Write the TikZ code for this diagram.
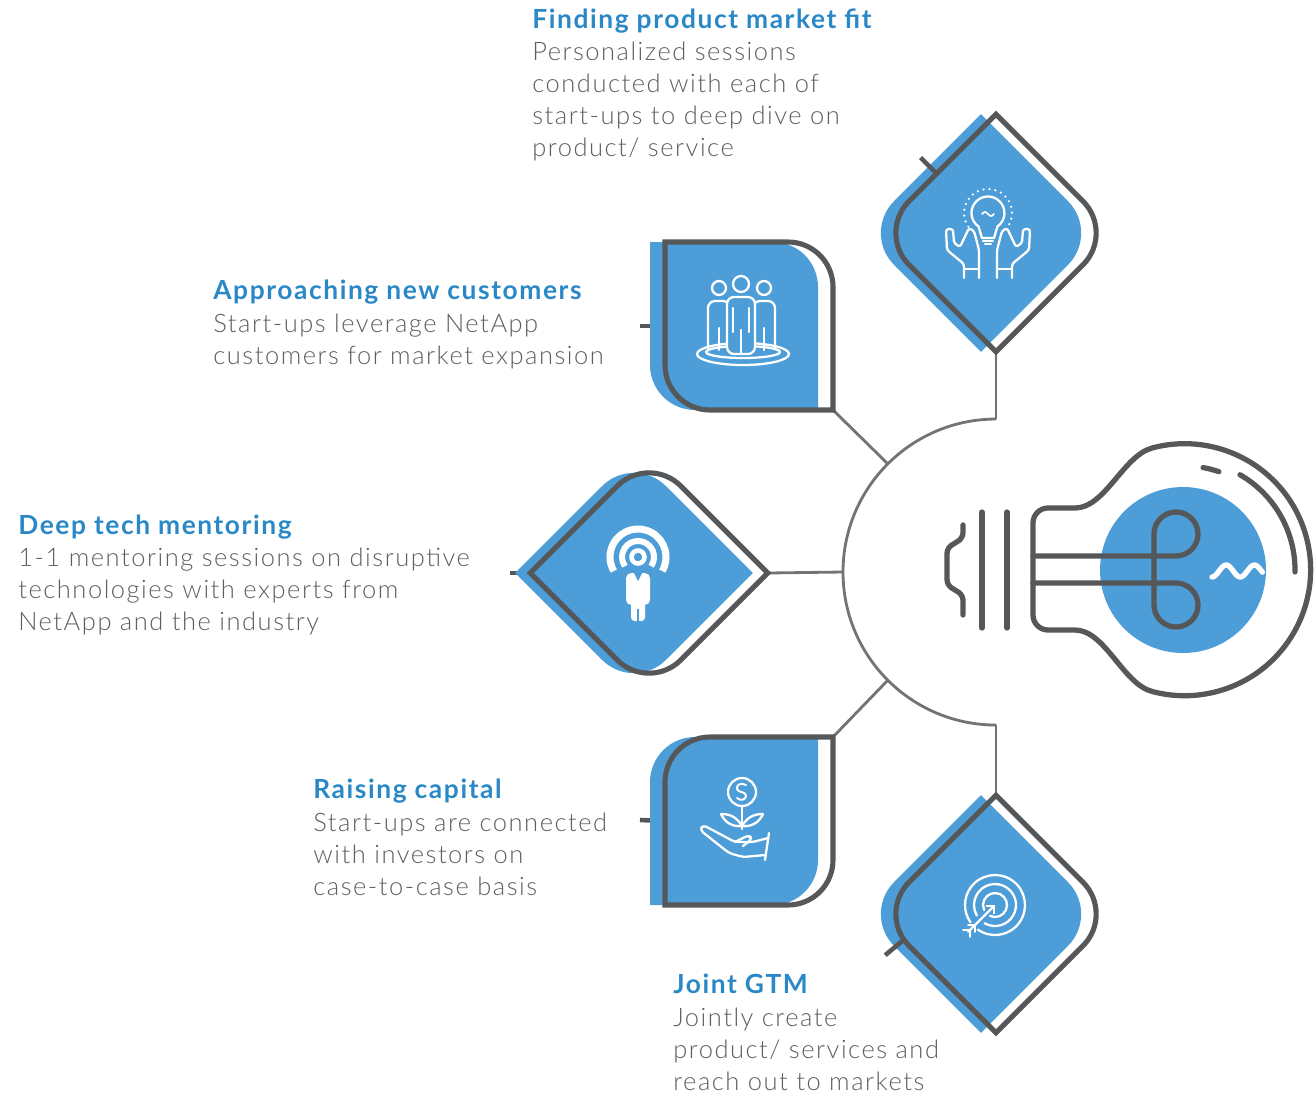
\documentclass[tikz,border=0pt]{standalone}
\usepackage{fontspec}
\setmainfont{Lato}
\newfontfamily\lightfont{Lato}[UprightFont={* Light},LetterSpace=6]
\newfontfamily\headfont{Lato}[UprightFont={* Bold},LetterSpace=6]
\usetikzlibrary{arrows.meta,positioning,calc,shapes.geometric}
\definecolor{Sky}{HTML}{4C9DD8}
\definecolor{Ink}{HTML}{2A88C6}
\definecolor{Slate}{HTML}{555759}
\definecolor{Wire}{HTML}{737373}
\definecolor{Copy}{HTML}{5E5E5E}

\begin{document}
\begin{tikzpicture}[
  x=0.02cm,y=0.02cm,
  leaf/.pic={
    \path[pic actions] (-84,84) -- (39,84) arc[start angle=90,end angle=0,radius=45]
      -- (84,-84) -- (-39,-84) arc[start angle=270,end angle=180,radius=45] -- cycle;
  },
  plate/.style={fill=Sky},
  rim/.style={draw=Slate,line width=2.9pt},
  link/.style={draw=Wire,line width=1.6pt},
  stub/.style={draw=Slate,line width=2.6pt},
  glyph/.style={draw=white,line width=1.3pt,line cap=round,line join=round},
  lamp/.style={draw=Slate,line width=3pt,line cap=round,line join=round},
  boxanchor/.style={minimum size=3.36cm,inner sep=0,outer sep=0},
  rhomb/.style={diamond,aspect=1,minimum size=4.76cm,inner sep=0,outer sep=0},
  head/.style={anchor=base west,inner sep=0,text=Ink,font=\headfont\fontsize{15}{18.2}\selectfont},
  % multi-line: the base anchor sits on the last line
  blurb/.style={anchor=base west,inner sep=0,align=left,text=Copy,font=\lightfont\fontsize{14.5}{18.2}\selectfont}
]
\useasboundingbox (0,0) rectangle (1315,-1093);
\clip (0,0) rectangle (1315,-1093);

% hub and the five boxes around it
\node[circle,minimum size=6.12cm,inner sep=0,outer sep=0] (hub) at (996,-572) {};
\node[rhomb] (fit) at (996,-233) {};
\node[boxanchor] (cust) at (749,-326) {};
\node[rhomb] (mentor) at (649,-573) {};
\node[boxanchor] (capital) at (749,-821) {};
\node[rhomb] (gtm) at (996,-914) {};

% spokes
\draw[link] (hub.north) arc[start angle=90,end angle=270,radius=153];
\draw[link] (hub.north) -- (fit.south);
\draw[link] (hub.135) -- (cust.south east);
\draw[link] (hub.west) -- (mentor.east);
\draw[link] (hub.225) -- (capital.north east);
\draw[link] (hub.south) -- (gtm.north);

% ticks toward the captions
\coordinate (custTail) at (640,-326);
\coordinate (capitalTail) at (640,-820);
\coordinate (mentorTail) at (510,-573);
\draw[stub] (custTail) -- (cust.west);
\draw[stub] (capitalTail) -- (capital.west);
\draw[stub] (mentorTail) -- (mentor.west);

% blue plates, then the frames
\pic[plate,rotate=-45] at ([xshift=-0.3cm]fit.center) {leaf};
\pic[plate] at ([xshift=-0.3cm]cust.center) {leaf};
\pic[plate,rotate=45] at ([xshift=-0.3cm]mentor.center) {leaf};
\pic[plate,rotate=90] at ([xshift=-0.3cm]capital.center) {leaf};
\pic[plate,rotate=-45] at ([xshift=-0.3cm]gtm.center) {leaf};
\pic[rim,rotate=-45] at (fit) {leaf};
\pic[rim] at (cust) {leaf};
\pic[rim,rotate=45] at (mentor) {leaf};
\pic[rim,rotate=90] at (capital) {leaf};
\pic[rim,rotate=-45] at (gtm) {leaf};

\coordinate (fitTail) at ($(fit.north west)+(-16,16)$);
\coordinate (gtmTail) at ($(gtm.west)!0.22!(gtm.south)+(-18,-15)$);
\draw[stub] (fitTail) -- (fit.north west);
\draw[stub] (gtmTail) -- ($(gtm.west)!0.22!(gtm.south)$);

% idea in hands
\begin{scope}[shift={(988,-238)}]
  \draw[glyph] (-6,0) -- (-9.5,11.5) arc[start angle=235,end angle=-55,radius=16.5] -- (6,0) -- cycle;
  \draw[glyph] (-5,-3) -- (5,-3) (-3,-6) -- (3,-6);
  \draw[glyph,line width=1pt] (-6,24) sin (-3,26) cos (0,24) sin (3,22) cos (6,24);
  \draw[white,line width=1.4pt,line cap=round,dash pattern=on 0pt off 3.4pt]
    (0,25) ++(215:24) arc[start angle=215,end angle=-35,radius=24];
  \foreach \s in {1,-1}{
    \draw[glyph,xscale=\s,rounded corners=1.5] (-24,-40) -- (-24,-26) -- (-41,-12) -- (-42,9) -- (-35,9)
      -- (-34,-5) -- (-28,-9) -- (-19,10) -- (-14,7) -- (-9,-12) -- (-9,-40);
    \draw[glyph,xscale=\s] (-24,-31) -- (-9,-31);
  }
\end{scope}

% team on a stage
\begin{scope}[shift={(741,-320)}]
  \draw[glyph] (2,-34) ellipse[x radius=46,y radius=11];
  \draw[glyph] (2,-32) ellipse[x radius=37,y radius=6];
  \foreach \x in {-22,23}{
    \draw[glyph] (\x,32) circle[radius=7];
    \draw[glyph,rounded corners=4] (\x-11,-28) -- (\x-11,19) -- (\x+11,19) -- (\x+11,-28);
    \draw[glyph] (\x,-30) -- (\x,-8);
  }
  \draw[glyph,fill=Sky,rounded corners=4] (-14,-34) -- (-14,23) -- (14,23) -- (14,-34) -- cycle;
  \draw[glyph] (0,-34) -- (0,-10) (-8,-12) -- (-8,12) (8,-12) -- (8,12);
  \draw[glyph,fill=Sky] (0,36) circle[radius=8];
\end{scope}

% mentor on air
\begin{scope}[shift={(638,-557)}]
  \draw[white,line width=4pt] (-30:28) arc[start angle=-30,end angle=210,radius=28];
  \draw[white,line width=3.4pt] (-35:16) arc[start angle=-35,end angle=215,radius=16];
  \draw[white,line width=2.6pt] (0,0) circle[radius=6.5];
  \fill[white,rounded corners=3] (-12,-48) rectangle (12,-16);
  \fill[white,rounded corners=2] (-7,-64) rectangle (7,-44);
  \draw[Sky,line width=1.2pt] (0,-52) -- (0,-65);
  \fill[Sky] (-4,-16) -- (0,-24) -- (4,-16) -- cycle;
\end{scope}

% money plant in hand
\begin{scope}[shift={(741,-815)}]
  \draw[glyph] (1,23) circle[radius=14];
  \draw[glyph,line width=1.1pt] (5,30) .. controls (0,33) and (-5,30) .. (-4,26)
    .. controls (-3,22) and (5,24) .. (5,19) .. controls (5,15) and (-1,14) .. (-4,17);
  \draw[glyph] (1,9) -- (1,-14);
  \draw[glyph] (1,-11) .. controls (-5,-1) and (-12,1) .. (-20,1) .. controls (-16,-8) and (-8,-12) .. cycle;
  \draw[glyph] (1,-11) .. controls (7,-1) and (14,1) .. (22,1) .. controls (18,-8) and (10,-12) .. cycle;
  \draw[glyph,rounded corners=2] (27,-23) -- (12,-27) -- (-6,-27) -- (-38,-10) -- (-41,-15)
    -- (-12,-38) -- (2,-42) -- (24,-40);
  \draw[glyph,rounded corners=2] (-6,-27) -- (8,-20) -- (11,-24) -- (2,-31);
  \draw[glyph] (28,-18) -- (24,-45);
\end{scope}

% target
\begin{scope}[shift={(995,-905)}]
  \draw[glyph] (235:30) arc[start angle=235,end angle=575,radius=30];
  \draw[glyph] (240:21) arc[start angle=240,end angle=570,radius=21];
  \draw[glyph] (245:12) arc[start angle=245,end angle=565,radius=12];
  \draw[glyph,-{Straight Barb[length=3pt,width=6pt]}] (225:38) -- (0,0);
  \foreach \r in {28,35}{
    \draw[glyph] (225:\r) -- ++(180:7);
    \draw[glyph] (225:\r) -- ++(270:7);
  }
\end{scope}

% the big lamp
\fill[Sky] (1183,-570) circle[radius=83];
\draw[lamp,rounded corners=3] (963,-525) -- (963,-538) -- (947,-548) -- (947,-585) -- (963,-595) -- (963,-615);
\draw[lamp] (982,-512) -- (982,-628);
\draw[lamp] (1007,-512) -- (1007,-628);
\draw[lamp] (1075,-508) .. controls (1105,-508) and (1123,-456) .. (1152,-448)
  arc[start angle=105,end angle=-105,radius=126]
  .. controls (1123,-684) and (1105,-630) .. (1075,-630) -- (1048,-630)
  arc[start angle=270,end angle=180,radius=15] -- (1033,-523)
  arc[start angle=180,end angle=90,radius=15] -- cycle;
\draw[lamp] (1033,-556) -- (1176,-556) arc[start angle=-90,end angle=180,radius=22]
  -- (1154,-605) arc[start angle=180,end angle=450,radius=22] -- (1033,-583);
\draw[lamp] (1185,-570) ++(80:104) arc[start angle=80,end angle=71,radius=104];
\draw[lamp] (1185,-570) ++(60:110) arc[start angle=60,end angle=-1,radius=110];
\draw[white,line width=3pt,line cap=round] plot[domain=0:11.2,samples=40]
  ({1212+4.5*\x},{-571+6*sin(deg(\x)-90)});

% captions
\node[head] (fitHead) at (532,-28) {Finding product market fit};
\node[blurb] (fitText) at (532,-156) {Personalized sessions\\conducted with each of\\start-ups to deep dive on\\product/ service};
\node[head] (custHead) at (213,-299) {Approaching new customers};
\node[blurb] (custText) at (213,-364) {Start-ups leverage NetApp\\customers for market expansion};
\node[head] (mentorHead) at (18,-534) {Deep tech mentoring};
\node[blurb] (mentorText) at (18,-630) {1-1 mentoring sessions on disruptive\\technologies with experts from\\NetApp and the industry};
\node[head] (capitalHead) at (313,-798) {Raising capital};
\node[blurb] (capitalText) at (313,-895) {Start-ups are connected\\with investors on\\case-to-case basis};
\node[head] (gtmHead) at (673,-993) {Joint GTM};
\node[blurb] (gtmText) at (673,-1090) {Jointly create\\product/ services and\\reach out to markets};
\end{tikzpicture}
\end{document}
